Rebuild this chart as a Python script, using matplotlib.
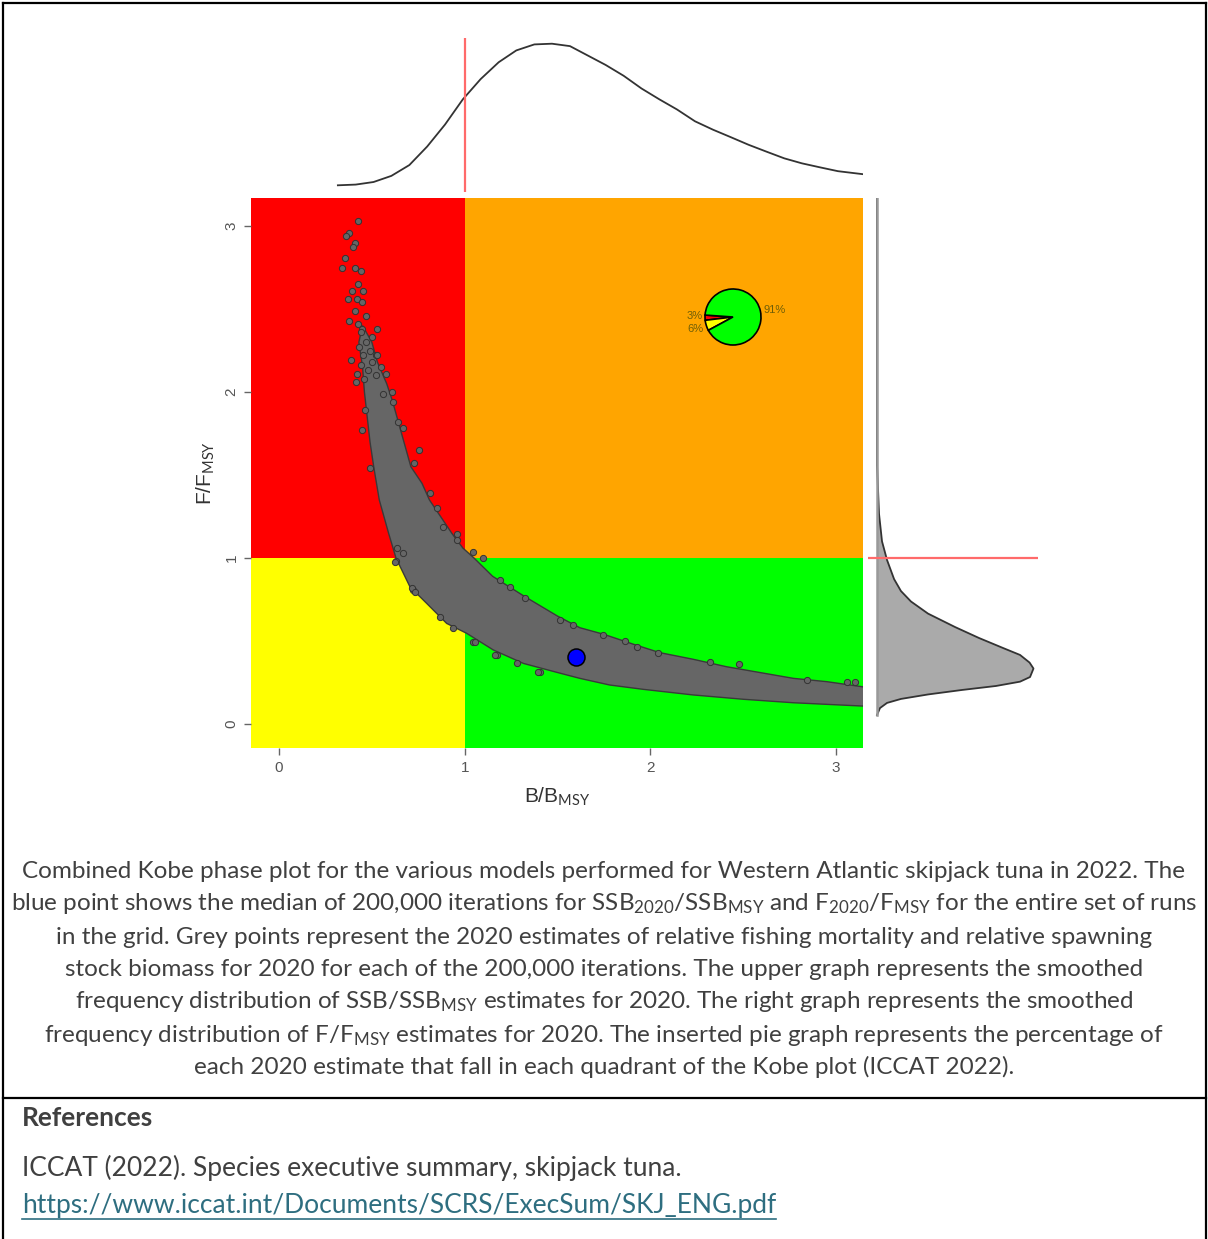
import matplotlib
matplotlib.use('Agg')
import matplotlib.pyplot as plt
from matplotlib.patches import Rectangle, Polygon
from matplotlib.lines import Line2D

plt.rcParams['font.family'] = ['Liberation Sans', 'DejaVu Sans']
plt.rcParams['mathtext.fontset'] = 'custom'
plt.rcParams['mathtext.rm'] = 'Lato'
plt.rcParams['mathtext.it'] = 'Lato:italic'
plt.rcParams['mathtext.bf'] = 'Lato:bold'

# ---- data ----
ticks = [0, 1, 2, 3]

# grey cloud of iterations, outline (B/BMSY, F/FMSY)
cloud_upper_B = [0.45, 0.50, 0.53, 0.58, 0.61, 0.66, 0.71, 0.77, 0.81, 0.87, 0.93, 0.99, 1.05, 1.15,
                 1.32, 1.50, 1.62, 1.75, 1.91, 2.05, 2.23, 2.41, 2.59, 2.77, 2.95, 3.20]
cloud_upper_F = [2.40, 2.30, 2.18, 2.05, 1.95, 1.75, 1.55, 1.45, 1.35, 1.25, 1.15, 1.06, 1.00, 0.89,
                 0.77, 0.65, 0.58, 0.54, 0.48, 0.43, 0.39, 0.345, 0.31, 0.275, 0.255, 0.215]
cloud_lower_B = [0.45, 0.43, 0.45, 0.46, 0.475, 0.49, 0.51, 0.54, 0.59, 0.63, 0.705, 0.795, 0.903,
                 1.011, 1.154, 1.316, 1.50, 1.62, 1.78, 1.96, 2.23, 2.50, 2.77, 3.20]
cloud_lower_F = [2.40, 2.30, 2.15, 2.00, 1.85, 1.70, 1.55, 1.35, 1.15, 1.00, 0.827, 0.727, 0.606,
                 0.546, 0.446, 0.365, 0.31, 0.275, 0.235, 0.209, 0.175, 0.149, 0.128, 0.105]

# loose points outside the dense cloud
dots_B = [0.427, 0.379, 0.361, 0.409, 0.400, 0.355, 0.341, 0.409, 0.442, 0.427, 0.391, 0.450,
          0.373, 0.418, 0.445, 0.409, 0.468, 0.379, 0.427, 0.529, 0.445, 0.499, 0.386, 0.522,
          0.549, 0.576, 0.418, 0.415, 0.607, 0.562, 0.616, 0.463, 0.643, 0.445, 0.666, 0.754,
          0.727, 0.490, 0.813, 0.849, 0.957, 0.630, 0.44, 0.47, 0.43, 0.49, 0.45, 0.50, 0.44,
          0.48, 0.52, 0.46, 0.53, 0.625, 0.723, 1.10, 1.325, 1.747, 1.046, 1.172, 1.405,
          1.585, 1.863, 2.043, 2.479, 3.10,
          0.715, 0.732, 0.867, 0.939, 1.055, 1.163, 1.28, 1.396, 0.634, 0.67,
          0.885, 0.957, 1.046, 1.19, 1.244, 1.513, 1.926, 2.321, 2.842, 3.057]
dots_F = [3.03, 2.96, 2.94, 2.90, 2.875, 2.81, 2.75, 2.75, 2.73, 2.65, 2.61, 2.61,
          2.56, 2.56, 2.54, 2.49, 2.46, 2.43, 2.41, 2.38, 2.38, 2.33, 2.19, 2.22,
          2.15, 2.11, 2.11, 2.06, 2.00, 1.99, 1.94, 1.89, 1.82, 1.77, 1.785, 1.65,
          1.57, 1.54, 1.39, 1.30, 1.145, 0.98, 2.36, 2.30, 2.27, 2.25, 2.22, 2.18, 2.16,
          2.13, 2.10, 2.08, 2.22, 0.978, 0.807, 0.998, 0.757, 0.536, 0.496, 0.416, 0.315,
          0.596, 0.50, 0.43, 0.361, 0.255,
          0.817, 0.797, 0.646, 0.576, 0.496, 0.416, 0.365, 0.315, 1.058, 1.028,
          1.189, 1.108, 1.038, 0.867, 0.827, 0.627, 0.466, 0.375, 0.265, 0.255]

median_B = 1.60
median_F = 0.405

# upper marginal: smoothed density of B/BMSY (scaled to peak 1)
top_B = [0.317, 0.413, 0.509, 0.605, 0.702, 0.798, 0.894, 0.990, 1.086, 1.183, 1.278, 1.375,
         1.470, 1.567, 1.663, 1.759, 1.856, 1.952, 2.048, 2.143, 2.240, 2.337, 2.432, 2.529,
         2.625, 2.721, 2.816, 2.913, 3.010, 3.144]
top_dens = [0.007, 0.012, 0.030, 0.073, 0.149, 0.279, 0.433, 0.610, 0.752, 0.870, 0.953, 0.995,
            1.0, 0.983, 0.917, 0.851, 0.775, 0.686, 0.610, 0.539, 0.456, 0.397, 0.345, 0.291,
            0.243, 0.196, 0.161, 0.133, 0.106, 0.085]

# right marginal: smoothed density of F/FMSY (scaled to peak 1)
right_F = [3.17, 2.5, 2.0, 1.56, 1.265, 1.10, 0.988, 0.873, 0.801, 0.738, 0.665, 0.584, 0.518,
           0.458, 0.416, 0.370, 0.334, 0.283, 0.255, 0.229, 0.205, 0.178, 0.151, 0.127, 0.096, 0.054]
right_dens = [0, 0, 0, 0, 0.013, 0.032, 0.064, 0.109, 0.153, 0.217, 0.326, 0.499, 0.652,
              0.805, 0.914, 0.975, 1.0, 0.978, 0.914, 0.760, 0.543, 0.326, 0.153, 0.064, 0.019, 0.0]

# quadrant shares for the pie
pie_values = [3, 6, 91]
pie_labels = ['3%', '6%', '91%']
pie_colors = ['#ff0000', '#ffff00', '#00ff00']

caption_lines = [
    "Combined Kobe phase plot for the various models performed for Western Atlantic skipjack tuna in 2022. The",
    r"blue point shows the median of 200,000 iterations for SSB$_{\mathrm{2020}}$/SSB$_{\mathrm{MSY}}$ and F$_{\mathrm{2020}}$/F$_{\mathrm{MSY}}$ for the entire set of runs",
    "in the grid. Grey points represent the 2020 estimates of relative fishing mortality and relative spawning",
    "stock biomass for 2020 for each of the 200,000 iterations. The upper graph represents the smoothed",
    r"frequency distribution of SSB/SSB$_{\mathrm{MSY}}$ estimates for 2020. The right graph represents the smoothed",
    r"frequency distribution of F/F$_{\mathrm{MSY}}$ estimates for 2020. The inserted pie graph represents the percentage of",
    "each 2020 estimate that fall in each quadrant of the Kobe plot (ICCAT 2022).",
]

W, H = 1208, 1239
fig = plt.figure(figsize=(W / 100, H / 100), dpi=100)


def px_axes(x0, y0, x1, y1):
    # box in pixels, origin top-left
    return fig.add_axes([x0 / W, 1 - y1 / H, (x1 - x0) / W, (y1 - y0) / H])


xlim = (-0.1508, 3.1449)
ylim = (-0.1446, 3.1687)

# ---- main Kobe plot ----
ax = px_axes(251, 198, 863, 748)
ax.set_xlim(xlim)
ax.set_ylim(ylim)
ax.add_patch(Rectangle((xlim[0], 1), 1 - xlim[0], ylim[1] - 1, color='#ff0000', lw=0, zorder=0))
ax.add_patch(Rectangle((1, 1), xlim[1] - 1, ylim[1] - 1, color='#ffa500', lw=0, zorder=0))
ax.add_patch(Rectangle((xlim[0], ylim[0]), 1 - xlim[0], 1 - ylim[0], color='#ffff00', lw=0, zorder=0))
ax.add_patch(Rectangle((1, ylim[0]), xlim[1] - 1, 1 - ylim[0], color='#00ff00', lw=0, zorder=0))

outline = list(zip(cloud_upper_B, cloud_upper_F)) + list(zip(cloud_lower_B[::-1], cloud_lower_F[::-1]))
ax.add_patch(Polygon(outline, closed=True, facecolor='#666666', edgecolor='#3a3a3a', lw=1.0, zorder=2))
ax.scatter(dots_B, dots_F, s=20, c='#666666', edgecolors='#333333', linewidths=0.7, zorder=3)
ax.scatter([median_B], [median_F], s=150, c='#0000ff', edgecolors='black', linewidths=1.1, zorder=4)

for sp in ax.spines.values():
    sp.set_visible(False)
ax.set_xticks(ticks)
ax.set_yticks(ticks)
ax.tick_params(direction='out', length=5, width=1, color='#666666', labelcolor='#555555',
               labelsize=11, pad=4)
for lab in ax.get_yticklabels():
    lab.set_rotation(90)
    lab.set_va('center')
ax.set_xlabel(r'B/B$_{\mathrm{MSY}}$', fontsize=15, color='#333333')
ax.set_ylabel(r'F/F$_{\mathrm{MSY}}$', fontsize=15, color='#333333')
ax.xaxis.set_label_coords(0.5, -0.068)
ax.yaxis.set_label_coords(-0.055, 0.5)

# ---- pie inset ----
axp = px_axes(698, 282, 768, 352)
wedges, texts = axp.pie(pie_values, labels=pie_labels, colors=pie_colors, startangle=176,
                        counterclock=True, wedgeprops=dict(edgecolor='black', linewidth=1.2),
                        textprops=dict(fontsize=8, color='#6e5e08'))
# the two small slices sit close together; nudge their labels apart a little
x3, y3 = texts[0].get_position()
texts[0].set_position((x3, y3 + 0.06))
x6, y6 = texts[1].get_position()
texts[1].set_position((x6, y6 - 0.08))

# ---- upper marginal ----
axt = px_axes(251, 38, 863, 192)
axt.set_xlim(xlim)
axt.set_ylim(-0.04, 1.04)
axt.plot(top_B, top_dens, color='#333333', lw=1.3)
axt.axvline(1, color='#ff6a6a', lw=1.6)
axt.axis('off')

# ---- right marginal ----
axr = px_axes(868, 198, 1038, 748)
axr.set_ylim(ylim)
axr.set_xlim(-0.0576, 1.0288)
axr.fill_betweenx(right_F, 0, right_dens, facecolor='#aaaaaa', lw=0)
axr.plot(right_dens, right_F, color='#333333', lw=1.3)
axr.plot([0, 0], [right_F[-1], right_F[0]], color='#999999', lw=1.8)
axr.axhline(1, color='#ff6a6a', lw=1.6)
axr.axis('off')

# ---- caption ----
cap_y = [872, 904, 937, 969, 1002, 1035, 1067]
for yy, line in zip(cap_y, caption_lines):
    fig.text(0.5, 1 - yy / H, line, ha='center', va='center', fontsize=17.5,
             family=['Lato', 'DejaVu Sans'], color='#404040')

fig.text(22 / W, 1 - 1118 / H, 'References', ha='left', va='center', fontsize=19,
         family=['Lato', 'DejaVu Sans'], weight='bold', color='#404040')
fig.text(22 / W, 1 - 1168 / H, 'ICCAT (2022). Species executive summary, skipjack tuna.',
         ha='left', va='center', fontsize=19, family=['Lato', 'DejaVu Sans'], color='#404040')
url = fig.text(22 / W, 1 - 1205 / H, 'https://www.iccat.int/Documents/SCRS/ExecSum/SKJ_ENG.pdf',
               ha='left', va='center', fontsize=19, family=['Lato', 'DejaVu Sans'], color='#2e6e80')
bb = url.get_window_extent(fig.canvas.get_renderer())
fig.add_artist(Line2D([bb.x0 / W, bb.x1 / W], [1 - 1219 / H, 1 - 1219 / H],
                      transform=fig.transFigure, color='#2e6e80', lw=1.2))

# ---- frame lines ----
for xs, ys in [([3, 3], [3, H]), ([3, 1206], [3, 3]), ([1206, 1206], [3, H]), ([3, 1206], [1098, 1098])]:
    fig.add_artist(Line2D([x / W for x in xs], [1 - y / H for y in ys], transform=fig.transFigure,
                          color='black', lw=1.6))

fig.savefig('out.png', dpi=100)
